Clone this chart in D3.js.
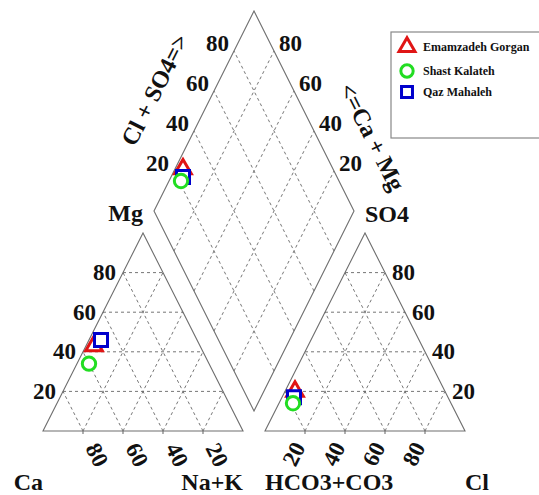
<!DOCTYPE html>
<html><head><meta charset="utf-8">
<script src="https://cdn.jsdelivr.net/npm/d3@7"></script>
<style>
body{margin:0;background:#fff}
text{font-family:"Liberation Serif","Times New Roman",serif;font-weight:bold;fill:#111}
</style>
</head><body><svg id="chart" width="539" height="495"></svg>
<script>
// Water samples (meq % of cations / anions)
const samples = ["Emamzadeh Gorgan", "Shast Kalateh", "Qaz Mahaleh"];
const ca   = [53, 60, 48];
const mg   = [43, 34, 46];
const naK  = [4, 6, 6];
const hco3 = [75, 79, 77];
const so4  = [20, 14, 17];
const cl   = [5, 7, 6];
const tickValues = [20, 40, 60, 80];
const colors = ["#e01515", "#22dd22", "#0000cc"];
const shapes = [d3.symbolTriangle, d3.symbolCircle, d3.symbolSquare];
const drawOrder = [0, 2, 1];

const svg = d3.select("#chart");

// layout
const baseY = 431, leftX = 43, rightX = 265;
const sx = d3.scaleLinear().domain([0, 100]).range([0, 200]);
const sy = d3.scaleLinear().domain([0, 100]).range([0, 198]);
const sd = d3.scaleLinear().domain([0, 100]).range([0, 200]);
const B = {x: 254, y: 411};
const ang = Math.atan2(198, 100) * 180 / Math.PI;

// cation triangle: (Na+K, Mg)
const cat = (n, m) => [leftX + sx(n) + sx(m) / 2, baseY - sy(m)];
// anion triangle: (Cl, SO4)
const ani = (c, s) => [rightX + sx(c) + sx(s) / 2, baseY - sy(s)];
// diamond: (Ca+Mg, Cl+SO4)
const dia = (a, b) => [B.x - sx(a) / 2 + sx(b) / 2, B.y - sd(a) - sd(b)];

const line = d3.line();
const gGrid = svg.append("g").attr("fill", "none").attr("stroke", "#666")
  .attr("stroke-width", 0.9).attr("stroke-dasharray", "3,3");
const gFrame = svg.append("g").attr("fill", "none").attr("stroke", "#6e6e6e").attr("stroke-width", 1.1);

// grids
tickValues.forEach(v => {
  [[cat(0, v), cat(100 - v, v)], [cat(v, 0), cat(v, 100 - v)], [cat(100 - v, 0), cat(0, 100 - v)],
   [ani(0, v), ani(100 - v, v)], [ani(v, 0), ani(v, 100 - v)], [ani(100 - v, 0), ani(0, 100 - v)],
   [dia(v, 0), dia(v, 100)], [dia(0, v), dia(100, v)]]
    .forEach(seg => gGrid.append("path").attr("d", line(seg)));
});

// outlines
gFrame.append("path").attr("d", line([cat(0, 0), cat(100, 0), cat(0, 100)]) + "Z");
gFrame.append("path").attr("d", line([ani(0, 0), ani(100, 0), ani(0, 100)]) + "Z");
gFrame.append("path").attr("d", line([dia(0, 0), dia(100, 0), dia(100, 100), dia(0, 100)]) + "Z");

// small base ticks
tickValues.forEach(v => {
  const p = cat(v, 0), q = ani(v, 0);
  gFrame.append("path").attr("d", line([p, [p[0], p[1] + 3]]));
  gFrame.append("path").attr("d", line([q, [q[0], q[1] + 3]]));
});

const gText = svg.append("g");
const tick = (x, y, t, anchor, rot) => gText.append("text")
  .attr("transform", `translate(${x},${y})` + (rot ? ` rotate(${rot})` : ""))
  .attr("text-anchor", anchor).attr("dominant-baseline", "central")
  .attr("font-size", 23).text(t);

tickValues.forEach(v => {
  let p = cat(0, v);        tick(p[0] - 7, p[1], v, "end");
  p = cat(v, 0);            tick(p[0] + 14, p[1] + 24, 100 - v, "middle", ang);
  p = ani(100 - v, v);      tick(p[0] + 7, p[1], v, "start");
  p = ani(v, 0);            tick(p[0] - 11, p[1] + 23, v, "middle", -ang);
  p = dia(100, v);          tick(p[0] - 5, p[1] - 8, v, "end");
  p = dia(v, 100);          tick(p[0] + 5, p[1] - 8, v, "start");
});

// axis titles
const title = (x, y, t, anchor, rot) => gText.append("text")
  .attr("transform", `translate(${x},${y})` + (rot ? ` rotate(${rot})` : ""))
  .attr("text-anchor", anchor).attr("font-size", 24).text(t);
const L0 = cat(0, 0), R0 = cat(100, 0), L1 = ani(0, 0), R1 = ani(100, 0);
const DL = dia(100, 0), DR = dia(0, 100);
title(L0[0], 490, "Ca", "end");
title(R0[0], 490, "Na+K", "end");
title(L1[0], 490, "HCO3+CO3", "start");
title(R1[0], 490, "Cl", "start");
title(DL[0] - 11, 221, "Mg", "end");
title(DR[0] + 11, 222, "SO4", "start");
gText.append("text").attr("transform", `translate(155,90) rotate(${-ang})`)
  .attr("text-anchor", "middle").attr("dominant-baseline", "central")
  .attr("font-size", 24).text("Cl + SO4=>");
gText.append("text").attr("transform", `translate(372,137) rotate(${ang})`)
  .attr("text-anchor", "middle").attr("dominant-baseline", "central")
  .attr("font-size", 24).text("<=Ca + Mg");

// sample markers
const sym = i => d3.symbol().type(shapes[i]).size(shapes[i] === d3.symbolCircle ? 140 : shapes[i] === d3.symbolSquare ? 169 : 120)();
const gPts = svg.append("g").attr("fill", "#fff").attr("stroke-width", 3);
drawOrder.forEach(i => {
  const pts = [cat(naK[i], mg[i]), ani(cl[i], so4[i]), dia(ca[i] + mg[i], cl[i] + so4[i])];
  pts.forEach(p => gPts.append("path").attr("d", sym(i))
    .attr("transform", `translate(${p[0]},${p[1]})`).attr("stroke", colors[i]));
});

// legend
const lg = svg.append("g");
lg.append("rect").attr("x", 391).attr("y", 32).attr("width", 160).attr("height", 106)
  .attr("fill", "#fff").attr("stroke", "#888").attr("stroke-width", 1.2);
const legY = [47, 71, 92];
samples.forEach((s, i) => {
  lg.append("path").attr("d", d3.symbol().type(shapes[i]).size(shapes[i] === d3.symbolTriangle ? 110 : 120)())
    .attr("transform", `translate(407,${legY[i]})`)
    .attr("fill", "#fff").attr("stroke", colors[i]).attr("stroke-width", 3);
  lg.append("text").attr("x", 423).attr("y", legY[i]).attr("dominant-baseline", "central")
    .attr("font-size", 12).text(s);
});
</script>
</body></html>
